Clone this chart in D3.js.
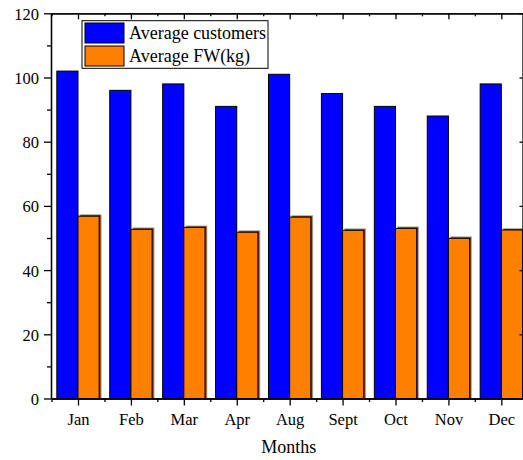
<!DOCTYPE html>
<html>
<head>
<meta charset="utf-8">
<script src="https://cdn.jsdelivr.net/npm/d3@7"></script>
<style>
  html, body { margin: 0; padding: 0; background: #fff; }
  svg { display: block; font-family: "Liberation Serif", "Times New Roman", serif; }
</style>
</head>
<body>
<svg id="chart" width="523" height="460"></svg>
<script>
// Monthly averages
const months = ["Jan", "Feb", "Mar", "Apr", "Aug", "Sept", "Oct", "Nov", "Dec"];
const avgCustomers = [102, 96, 98, 91, 101, 95, 91, 88, 98];
const avgFoodWaste = [56.8, 52.7, 53.3, 51.8, 56.5, 52.4, 53.0, 49.9, 52.5];
const seriesNames = ["Average customers", "Average FW(kg)"];
const yTicks = [0, 20, 40, 60, 80, 100, 120];
const yMinorTicks = [10, 30, 50, 70, 90, 110];
const xAxisTitle = "Months";

const colors = ["#0000FF", "#FF8000"];

const svg = d3.select("#chart");
const plotLeft = 51, plotRight = 522.5, plotTop = 13.3, plotBottom = 398.5;

// category positions 1..n on a linear scale (Origin-style)
const x = d3.scaleLinear().domain([0.49, 9.40]).range([plotLeft, plotRight]);
const y = d3.scaleLinear().domain([0, 120]).range([plotBottom, plotTop]);
const barW = 0.4;
const idx = months.map((m, i) => i + 1);

// bars
const plot = svg.append("g");
// customers
plot.selectAll("rect.cust").data(avgCustomers).join("rect")
  .attr("class", "cust")
  .attr("x", (d, i) => x(idx[i] - barW))
  .attr("y", d => y(d))
  .attr("width", x(barW) - x(0))
  .attr("height", d => y(0) - y(d))
  .attr("fill", colors[0])
  .attr("stroke", "#000")
  .attr("stroke-width", 1);

// food waste: shadow then bar
plot.selectAll("rect.fwshadow").data(avgFoodWaste).join("rect")
  .attr("class", "fwshadow")
  .attr("x", (d, i) => x(idx[i]) + 2)
  .attr("y", d => y(d) - 1.5)
  .attr("width", x(barW) - x(0))
  .attr("height", d => y(0) - y(d) + 1.5)
  .attr("fill", "#7a3c00")
  .attr("stroke", "#b8b8b8")
  .attr("stroke-width", 0.8);
plot.selectAll("rect.fw").data(avgFoodWaste).join("rect")
  .attr("class", "fw")
  .attr("x", (d, i) => x(idx[i]))
  .attr("y", d => y(d))
  .attr("width", x(barW) - x(0))
  .attr("height", d => y(0) - y(d))
  .attr("fill", colors[1])
  .attr("stroke", "#000")
  .attr("stroke-width", 1);

// axes
const axisStyle = g => {
  g.selectAll("path.domain").attr("stroke", "#000").attr("stroke-width", 1.3);
  g.selectAll(".tick line").attr("stroke", "#000").attr("stroke-width", 1.3);
  g.selectAll("text").attr("fill", "#000").attr("font-size", "16.5px")
    .attr("font-family", "'Liberation Serif', 'Times New Roman', serif");
};

// left axis
const yAxis = svg.append("g").attr("transform", `translate(${plotLeft},0)`)
  .call(d3.axisLeft(y).tickValues(yTicks).tickSize(7).tickPadding(5).tickSizeOuter(0));
axisStyle(yAxis);
yAxis.selectAll("text").attr("dy", "0.36em");
svg.append("g").attr("transform", `translate(${plotLeft},0)`)
  .call(d3.axisLeft(y).tickValues(yMinorTicks).tickSize(4).tickFormat("").tickSizeOuter(0))
  .call(axisStyle);

// right axis, inward ticks
svg.append("g").attr("transform", `translate(${plotRight},0)`)
  .call(d3.axisLeft(y).tickValues(yTicks).tickSize(0).tickFormat("").tickSizeOuter(0))
  .call(axisStyle)
  .selectAll(".tick line").attr("x2", -3);

// bottom axis
const xAxis = svg.append("g").attr("transform", `translate(0,${plotBottom})`)
  .call(d3.axisBottom(x).tickValues(idx).tickFormat((d, i) => months[i])
    .tickSize(7).tickPadding(8).tickSizeOuter(0));
axisStyle(xAxis);
svg.append("g").attr("transform", `translate(0,${plotBottom})`)
  .call(d3.axisBottom(x).tickValues(idx.map(d => d - 0.5)).tickSize(3.5).tickFormat("").tickSizeOuter(0))
  .call(axisStyle);

// top axis, inward ticks
svg.append("g").attr("transform", `translate(0,${plotTop})`)
  .call(d3.axisBottom(x).tickValues(idx).tickSize(6).tickFormat("").tickSizeOuter(0))
  .call(axisStyle);
svg.append("g").attr("transform", `translate(0,${plotTop})`)
  .call(d3.axisBottom(x).tickValues(idx.map(d => d - 0.5)).tickSize(3).tickFormat("").tickSizeOuter(0))
  .call(axisStyle);

// axis title
svg.append("text")
  .attr("x", (plotLeft + plotRight) / 2 + 2)
  .attr("y", 453)
  .attr("text-anchor", "middle")
  .attr("font-size", "18px")
  .attr("fill", "#000")
  .text(xAxisTitle);

// legend
const legend = svg.append("g");
legend.append("rect")
  .attr("x", 82).attr("y", 20.7).attr("width", 186).attr("height", 47.6)
  .attr("fill", "#fff").attr("stroke", "#000").attr("stroke-width", 1);
seriesNames.forEach((name, i) => {
  legend.append("rect")
    .attr("x", 85).attr("y", 23 + i * 23).attr("width", 39).attr("height", 20)
    .attr("fill", colors[i]).attr("stroke", "#000").attr("stroke-width", 1);
  legend.append("text")
    .attr("x", 129).attr("y", 39 + i * 23)
    .attr("font-size", "18px")
    .attr("fill", "#000")
    .text(name);
});
</script>
</body>
</html>
